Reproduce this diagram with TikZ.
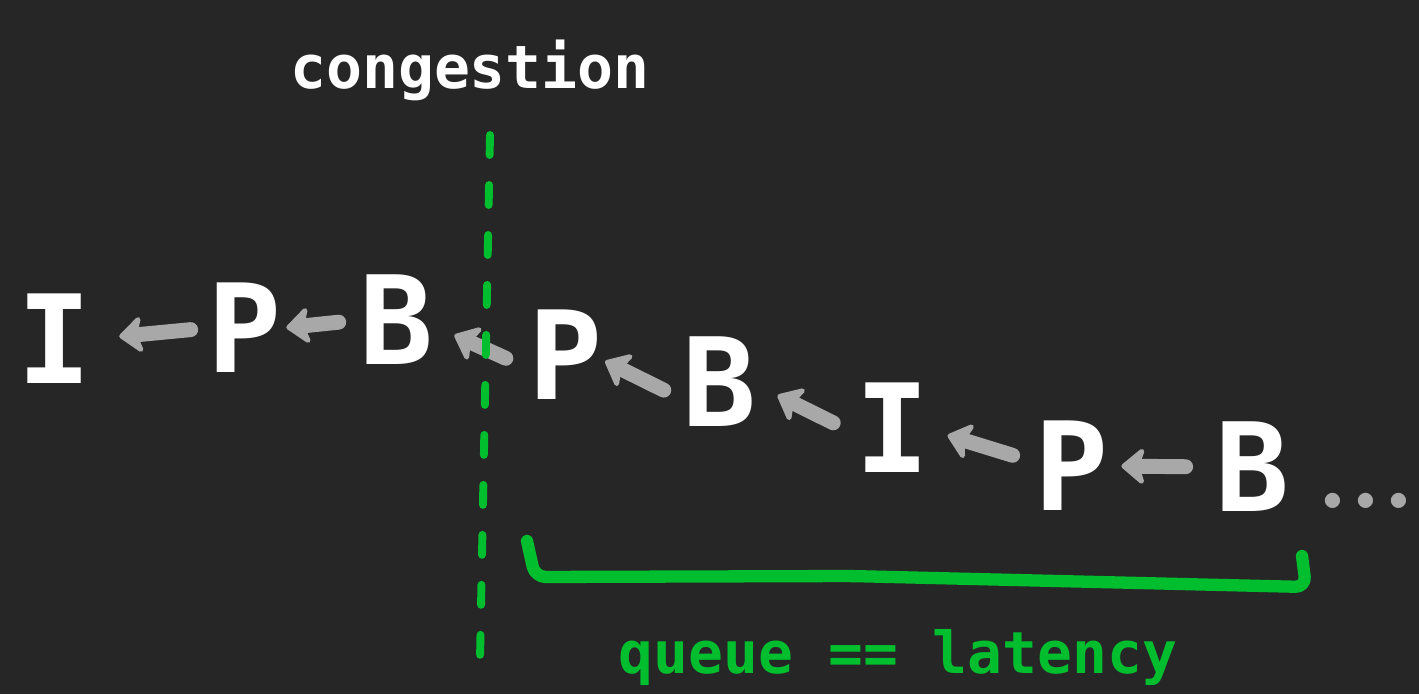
\documentclass[tikz,border=0pt]{standalone}
\usepackage{fontspec}
\setmainfont{DejaVu Sans Mono}
\newfontfamily\dotsfont{Latin Modern Roman}
\usetikzlibrary{arrows.meta}
\definecolor{board}{RGB}{38,38,38}
\definecolor{chalkgray}{RGB}{168,168,168}
\definecolor{markgreen}{RGB}{0,190,45}
\tikzset{
    framenode/.style={text=white,inner sep=0pt,font=\bfseries\fontsize{70}{70}\selectfont},
    framearrow/.style={-{Stealth[length=15pt,width=25pt,inset=4pt,round]},line width=8.5pt,line cap=round,chalkgray},
    cutline/.style={markgreen,line width=4.5pt,line cap=round,dash pattern=on 0.4cm off 0.6cm},
    bracketline/.style={markgreen,line width=7pt,line cap=round,line join=round,rounded corners=6pt},
    note/.style={inner sep=0pt,anchor=base},
    moredots/.style={note,text=chalkgray,font=\dotsfont\bfseries\fontsize{60}{60}\selectfont}
}

\begin{document}
\begin{tikzpicture}[x=0.02cm,y=-0.02cm]
    % Board
    \fill[board] (0,0) rectangle (1419,694);
    \useasboundingbox (0,0) rectangle (1419,694);
    % Frames
    \node[framenode] (i1) at (55,339) {I};
    \node[framenode] (p1) at (245,328) {P};
    \node[framenode] (b1) at (397,320) {B};
    \node[framenode] (p2) at (566,355) {P};
    \node[framenode] (b2) at (720,382) {B};
    \node[framenode] (i2) at (893,428) {I};
    \node[framenode] (p3) at (1072,466) {P};
    \node[framenode] (b3) at (1253,467) {B};
    \node[moredots] (more) at (1366,508) {...};
    % Dependencies
    \draw[framearrow,shorten <=0.34cm,shorten >=0.54cm] (p1.west) -- (i1.east);
    \draw[framearrow,shorten <=0.42cm,shorten >=0.08cm] (b1.west) -- (p1.east);
    \draw[framearrow,shorten <=0.5cm,shorten >=0.44cm] (p2.200) -- (b1.-9);
    \draw[framearrow,shorten <=0.42cm,shorten >=0.04cm] (b2.205) -- (p2.-8);
    \draw[framearrow,shorten <=0.5cm,shorten >=0.45cm] (i2.189) -- (b2.-5);
    \draw[framearrow,shorten <=0.46cm,shorten >=0.36cm] (p3.174) -- (i2.-3);
    \draw[framearrow,shorten <=0.6cm,shorten >=0.24cm] (b3.west) -- (p3.east);
    % Congestion cut
    \coordinate (cuttop) at (490,135);
    \coordinate (cutbot) at (480,660);
    \draw[cutline] (cuttop) -- (cutbot);
    \node[note,text=white,font=\bfseries\fontsize{34}{34}\selectfont] (cong) at (470,88) {congestion};
    % Queue bracket
    \coordinate (qa) at (527,541);
    \coordinate (qb) at (535,577);
    \coordinate (qc) at (850,576);
    \coordinate (qd) at (1306,587);
    \coordinate (qe) at (1302,556);
    \draw[bracketline] (qa) -- (qb) -- (qc) -- (qd) -- (qe);
    \node[note,text=markgreen,font=\bfseries\fontsize{33}{33}\selectfont] (qlat) at (898,673) {queue == latency};
\end{tikzpicture}
\end{document}
